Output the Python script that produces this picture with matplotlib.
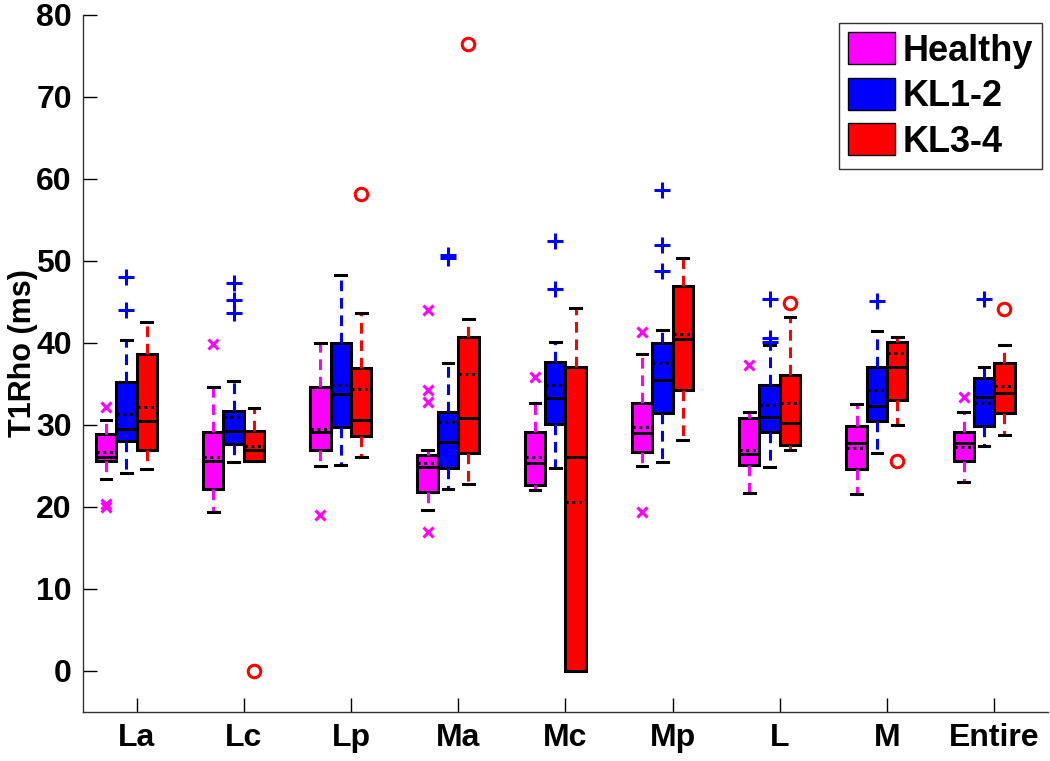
import matplotlib
matplotlib.use('Agg')
import matplotlib.pyplot as plt
from matplotlib.patches import Patch

# regions along x
regions = ['La', 'Lc', 'Lp', 'Ma', 'Mc', 'Mp', 'L', 'M', 'Entire']
groups = ['Healthy', 'KL1-2', 'KL3-4']
colors = ['#FF00FF', '#0000FF', '#FF0000']
flier_marks = ['x', '+', 'o']

# Healthy
h_whislo = [23.4, 19.4, 25.0, 19.6, 22.1, 25.0, 21.7, 21.6, 23.0]
h_q1 = [25.6, 22.2, 27.0, 21.8, 22.7, 26.7, 25.1, 24.6, 25.6]
h_med = [26.1, 25.6, 29.1, 24.9, 25.4, 29.0, 26.5, 27.8, 27.8]
h_mean = [26.7, 26.1, 29.5, 25.4, 26.1, 29.8, 27.0, 27.2, 27.3]
h_q3 = [28.9, 29.1, 34.6, 26.3, 29.1, 32.7, 30.8, 29.9, 29.1]
h_whishi = [30.6, 34.6, 40.0, 27.0, 32.7, 38.7, 31.6, 32.6, 31.6]
h_fliers = [[32.2, 20.4, 20.0], [39.9], [19.0], [44.0, 34.3, 32.8, 17.0],
            [35.8], [41.3, 19.4], [37.3], [], [33.4]]

# KL1-2
k12_whislo = [24.1, 25.5, 25.1, 22.2, 24.8, 25.5, 24.9, 26.6, 27.4]
k12_q1 = [28.0, 27.7, 29.8, 24.8, 30.1, 31.5, 29.2, 30.5, 29.9]
k12_med = [29.5, 29.3, 33.8, 27.9, 33.3, 35.5, 31.0, 32.3, 33.4]
k12_mean = [31.3, 31.0, 34.9, 30.4, 34.9, 37.5, 32.4, 34.3, 32.7]
k12_q3 = [35.2, 31.7, 40.0, 31.6, 37.7, 40.0, 34.9, 37.1, 35.7]
k12_whishi = [40.4, 35.4, 48.3, 37.5, 40.1, 41.6, 39.8, 41.5, 37.1]
k12_fliers = [[48.0, 44.0], [47.3, 45.2, 43.7], [], [50.4, 50.7],
              [52.4, 46.6], [58.7, 52.0, 48.8], [45.4, 40.6, 40.1], [45.1], [45.4]]

# KL3-4
k34_whislo = [24.6, 25.6, 26.1, 22.8, 0.0, 28.2, 27.0, 30.0, 28.8]
k34_q1 = [27.0, 25.6, 28.7, 26.6, 0.0, 34.3, 27.6, 33.0, 31.5]
k34_med = [30.5, 27.0, 30.6, 30.9, 26.1, 40.5, 30.2, 37.1, 33.9]
k34_mean = [32.2, 27.4, 34.4, 36.2, 20.6, 41.1, 32.7, 38.8, 34.8]
k34_q3 = [38.7, 29.3, 37.0, 40.7, 37.1, 46.9, 36.1, 40.1, 37.6]
k34_whishi = [42.6, 32.1, 43.6, 42.9, 44.3, 50.4, 43.2, 40.7, 39.8]
k34_fliers = [[], [0.0], [58.2], [76.5], [], [], [44.9], [25.6], [44.1]]

data = [
    (h_whislo, h_q1, h_med, h_mean, h_q3, h_whishi, h_fliers),
    (k12_whislo, k12_q1, k12_med, k12_mean, k12_q3, k12_whishi, k12_fliers),
    (k34_whislo, k34_q1, k34_med, k34_mean, k34_q3, k34_whishi, k34_fliers),
]

plt.rcParams['font.family'] = ['Liberation Sans', 'DejaVu Sans']
plt.rcParams['font.weight'] = 'bold'

fig = plt.figure(figsize=(10.5, 7.61), dpi=100)
ax = fig.add_axes([0.079, 0.0644, 0.919, 0.916])

w = 0.19
offsets = [-1.5 * w, -0.5 * w, 0.5 * w]
msizes = [7, 11, 9]

for g, (wlo, q1, med, mean, q3, whi, fl) in enumerate(data):
    stats = []
    for i in range(len(regions)):
        stats.append({'whislo': wlo[i], 'q1': q1[i], 'med': med[i],
                      'mean': mean[i], 'q3': q3[i], 'whishi': whi[i],
                      'fliers': fl[i]})
    pos = [i + 1 + offsets[g] for i in range(len(regions))]
    mfc = 'none' if flier_marks[g] == 'o' else colors[g]
    ax.bxp(stats, positions=pos, widths=w, patch_artist=True,
           showmeans=True, meanline=True, capwidths=0.1,
           boxprops=dict(facecolor=colors[g], edgecolor='black', linewidth=2.2),
           medianprops=dict(color='black', linewidth=2.2),
           meanprops=dict(color='black', linewidth=2.2, linestyle=(0, (1, 1.2))),
           whiskerprops=dict(color=colors[g], linewidth=2.2, linestyle=(0, (3.5, 2.2))),
           capprops=dict(color='black', linewidth=2.2),
           flierprops=dict(marker=flier_marks[g], markeredgecolor=colors[g],
                           markerfacecolor=mfc, markersize=msizes[g],
                           markeredgewidth=2.2, linestyle='none'),
           manage_ticks=False, zorder=3)

ax.set_xlim(0.5, 9.5)
ax.set_ylim(-5, 80)
ax.set_xticks(range(1, len(regions) + 1))
ax.set_xticklabels(regions)
ax.set_yticks(range(0, 81, 10))
ax.tick_params(direction='in', length=10, width=1, labelsize=23, pad=8)
for lab in ax.get_xticklabels() + ax.get_yticklabels():
    lab.set_fontweight('bold')
ax.set_ylabel('T1Rho (ms)', fontsize=22, fontweight='bold')
ax.yaxis.set_label_coords(-0.047, 0.515)
ax.spines['top'].set_visible(False)
ax.spines['right'].set_visible(False)
for s in ['left', 'bottom']:
    ax.spines[s].set_linewidth(1)
    ax.spines[s].set_color('#333333')

handles = [Patch(facecolor=c, edgecolor='black', linewidth=1) for c in colors]
leg = fig.legend(handles, groups, loc='upper right',
                 bbox_to_anchor=(1042 / 1050, 1 - 23 / 761),
                 prop={'weight': 'bold', 'size': 26},
                 handlelength=1.3, handleheight=1.0, handletextpad=0.2,
                 labelspacing=0.25, borderpad=0.25, borderaxespad=0,
                 fancybox=False, framealpha=1, edgecolor='#333333')
leg.get_frame().set_linewidth(1)

fig.savefig('out.png', dpi=100)
